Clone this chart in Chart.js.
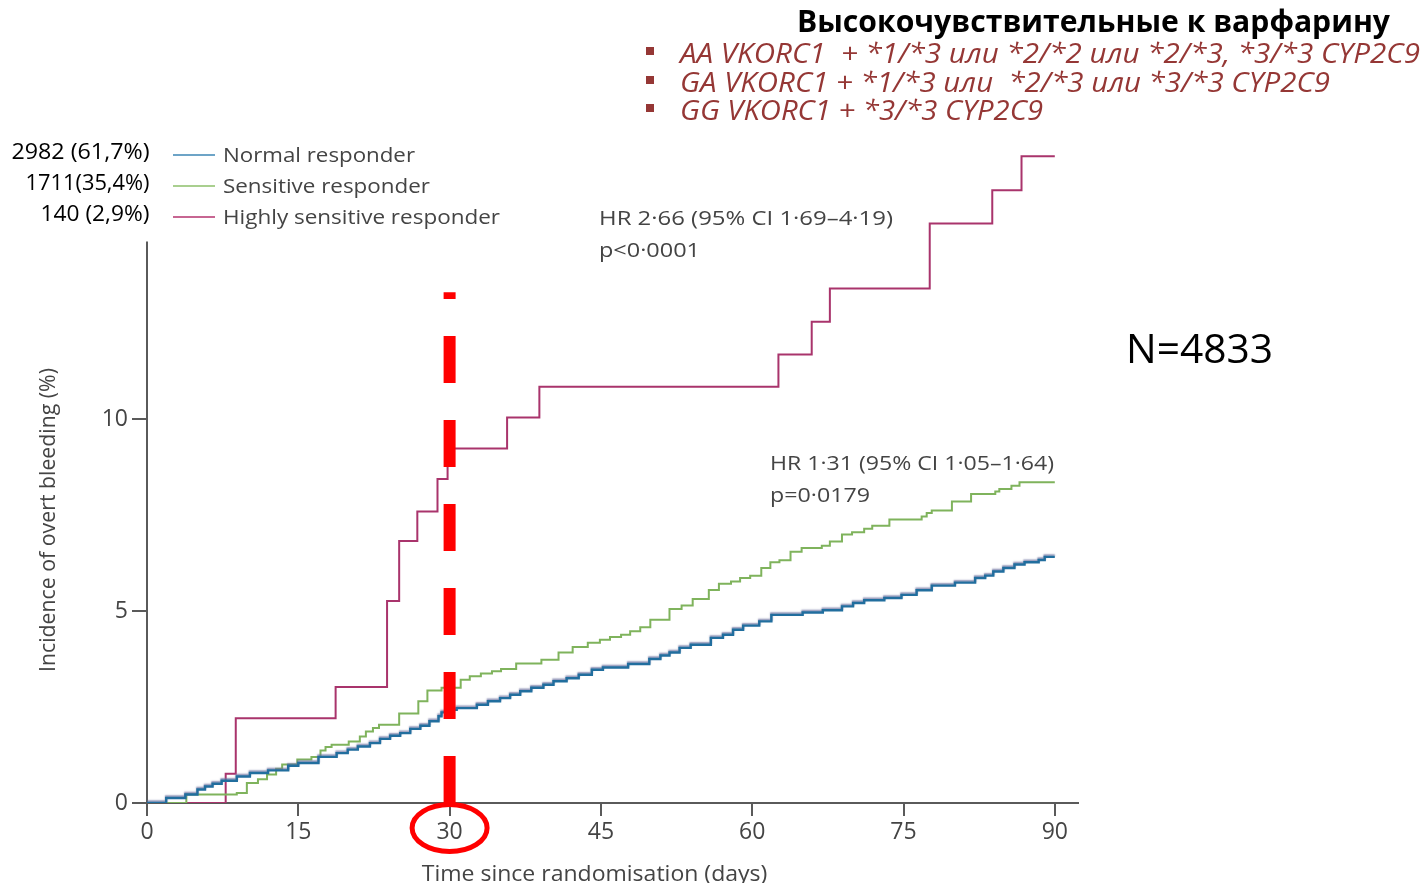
<!DOCTYPE html>
<html>
<head>
<meta charset="utf-8">
<script src="https://cdn.jsdelivr.net/npm/chart.js@4.4.1/dist/chart.umd.min.js"></script>
<style>
html,body{margin:0;padding:0;background:#fff;overflow:hidden}
#wrap{position:relative;width:1427px;height:883px}
</style>
</head>
<body>
<div id="wrap"><canvas id="c" width="1427" height="883"></canvas></div>
<script>
// ---------- data ----------
const xTickValues = [0, 15, 30, 45, 60, 75, 90];
const yTickValues = [0, 5, 10];

const seriesNames  = ['Normal responder', 'Sensitive responder', 'Highly sensitive responder'];
const seriesCounts = ['2982 (61,7%)', '1711(35,4%)', '140 (2,9%)'];

const normalDays = [0, 1.9, 3.8, 5.0, 5.75, 6.5, 7.4, 8.9, 10.2, 12.0, 14.0, 15.0, 17.0, 18.8, 19.9, 20.9, 22.1, 23.1, 24.1, 25.1, 26.1, 27.1, 28.0, 28.9, 29.2, 29.8, 30.7, 32.7, 33.8, 35.0, 36.0, 37.0, 38.1, 39.3, 40.3, 41.6, 42.8, 44.1, 45.2, 47.7, 49.8, 50.9, 51.8, 52.8, 53.9, 55.9, 57.1, 58.1, 59.1, 60.7, 61.9, 65.0, 67.0, 68.9, 70.0, 71.1, 73.1, 74.8, 76.3, 77.8, 80.1, 82.1, 83.1, 83.9, 84.9, 86.0, 87.0, 88.4, 89.0, 90.0];
const normalIncidence = [0, 0.13, 0.22, 0.35, 0.43, 0.50, 0.58, 0.69, 0.78, 0.85, 0.97, 1.04, 1.20, 1.30, 1.39, 1.47, 1.56, 1.67, 1.75, 1.82, 1.93, 2.01, 2.13, 2.26, 2.36, 2.43, 2.47, 2.56, 2.65, 2.73, 2.82, 2.91, 3.00, 3.08, 3.17, 3.25, 3.34, 3.47, 3.53, 3.62, 3.75, 3.84, 3.92, 4.04, 4.12, 4.30, 4.38, 4.51, 4.62, 4.73, 4.90, 4.96, 5.02, 5.12, 5.21, 5.28, 5.34, 5.42, 5.54, 5.66, 5.74, 5.86, 5.92, 6.03, 6.12, 6.21, 6.27, 6.33, 6.41, 6.41];

const sensitiveDays = [0, 3.9, 8.9, 9.9, 11.0, 11.9, 12.8, 13.4, 14.9, 16.3, 17.2, 17.7, 18.3, 20.0, 21.1, 21.7, 22.4, 23.0, 25.0, 26.9, 27.8, 29.2, 31.1, 32.0, 33.1, 34.2, 35.1, 36.6, 39.1, 40.8, 42.2, 43.7, 44.9, 45.9, 47.0, 47.9, 48.9, 49.9, 51.8, 53.0, 54.1, 55.7, 56.7, 57.9, 58.8, 59.8, 60.9, 61.8, 62.7, 63.8, 64.9, 66.9, 67.7, 68.9, 69.9, 71.1, 71.9, 73.6, 76.8, 77.3, 77.8, 79.8, 81.7, 84.1, 84.5, 85.7, 86.5, 90.0];
const sensitiveIncidence = [0, 0.22, 0.26, 0.52, 0.62, 0.74, 0.89, 1.00, 1.13, 1.20, 1.37, 1.46, 1.52, 1.60, 1.73, 1.86, 1.95, 2.04, 2.33, 2.65, 2.93, 3.00, 3.21, 3.30, 3.37, 3.43, 3.49, 3.63, 3.73, 3.92, 4.06, 4.17, 4.25, 4.32, 4.38, 4.47, 4.58, 4.77, 5.05, 5.14, 5.31, 5.55, 5.71, 5.77, 5.86, 5.92, 6.12, 6.27, 6.32, 6.54, 6.64, 6.70, 6.81, 6.99, 7.05, 7.14, 7.22, 7.38, 7.46, 7.55, 7.62, 7.85, 8.05, 8.11, 8.18, 8.26, 8.35, 8.35];

const highlyDays = [0, 7.8, 8.8, 18.7, 23.8, 25.0, 26.8, 28.8, 29.8, 35.7, 38.9, 62.6, 65.9, 67.7, 77.6, 83.8, 86.7, 90.0];
const highlyIncidence = [0, 0.76, 2.21, 3.02, 5.26, 6.82, 7.59, 8.44, 9.23, 10.04, 10.84, 11.68, 12.53, 13.40, 15.09, 15.96, 16.84, 16.84];

const hrHighly = ['HR 2·66 (95% CI 1·69–4·19)', 'p<0·0001'];
const hrSensitive = ['HR 1·31 (95% CI 1·05–1·64)', 'p=0·0179'];
const titleRu = 'Высокочувствительные к варфарину';
const genotypeLines = [
  'AA VKORC1  + *1/*3 или *2/*2 или *2/*3, *3/*3 CYP2C9',
  'GA VKORC1 + *1/*3 или  *2/*3 или *3/*3 CYP2C9',
  'GG VKORC1 + *3/*3 CYP2C9'
];
const sampleSize = 'N=4833';
const markerDay = 30;
const xAxisTitle = 'Time since randomisation (days)';
const yAxisTitle = 'Incidence of overt bleeding (%)';

// ---------- helpers ----------
const toPoints = (days, vals) => days.map((d, i) => ({ x: d, y: vals[i] }));
function fitText(ctx, text, x, y, width, align) {
  const w = ctx.measureText(text).width;
  const s = width / w;
  const x0 = align === 'left' ? x : (align === 'right' ? x - width : x - width / 2);
  ctx.save();
  ctx.translate(x0, y);
  ctx.scale(s, 1);
  ctx.textAlign = 'left';
  ctx.textBaseline = 'alphabetic';
  ctx.fillText(text, 0, 0);
  ctx.restore();
}

const TEXT_GRAY = '#444444';
const AXIS_GRAY = '#5a5a5a';
const CHART_FONT = '"Open Sans"';
const lineColors = ['#216e9e', '#7fb35c', '#a9346c'];
const legendColors = ['#3d86b5', '#8cbf6a', '#b5336e'];

const overlay = {
  id: 'overlay',
  beforeDatasetDraw(chart, args) {
    if (args.index === 0) {
      const c = chart.ctx;
      c.save();
      c.shadowColor = 'rgba(110,115,160,0.75)';
      c.shadowBlur = 1.5;
      c.shadowOffsetX = 0;
      c.shadowOffsetY = -1.5;
    }
  },
  afterDatasetDraw(chart, args) {
    if (args.index === 0) chart.ctx.restore();
  },
  beforeDatasetsDraw(chart) {
    const c = chart.ctx, xs = chart.scales.x, ys = chart.scales.y;
    c.save();
    c.strokeStyle = AXIS_GRAY;
    c.lineWidth = 2;
    c.beginPath();
    c.moveTo(xs.getPixelForValue(0), ys.getPixelForValue(0));
    c.lineTo(xs.getPixelForValue(0), ys.getPixelForValue(14.62));
    c.stroke();
    c.restore();
  },
  afterDraw(chart) {
    const c = chart.ctx, xs = chart.scales.x, ys = chart.scales.y;
    const mx = xs.getPixelForValue(markerDay);
    c.save();
    c.strokeStyle = '#ff0000';
    c.lineWidth = 12;
    c.lineCap = 'butt';
    c.setLineDash([47, 37]);
    c.beginPath();
    c.moveTo(mx, ys.getPixelForValue(0));
    c.lineTo(mx, ys.getPixelForValue(13.3));
    c.stroke();
    c.setLineDash([]);
    c.lineWidth = 5;
    c.beginPath();
    c.ellipse(mx, 828, 37.5, 23.5, 0, 0, Math.PI * 2);
    c.stroke();
    c.restore();

    // axis titles
    c.save();
    c.fillStyle = TEXT_GRAY;
    c.font = '500 22px ' + CHART_FONT;
    fitText(c, xAxisTitle, 421.7, 881, 345.6, 'left');
    c.translate(55, 520);
    c.rotate(-Math.PI / 2);
    c.font = '500 21px ' + CHART_FONT;
    fitText(c, yAxisTitle, 0, 0, 304, 'center');
    c.restore();

    // legend
    c.save();
    const legBase = [162, 193, 224];
    const legW = [192, 207, 277];
    const cntW = [138, 124, 109];
    for (let i = 0; i < 3; i++) {
      c.strokeStyle = legendColors[i];
      c.lineWidth = 1.6;
      c.beginPath();
      c.moveTo(173, legBase[i] - 7);
      c.lineTo(215, legBase[i] - 7);
      c.stroke();
      c.fillStyle = TEXT_GRAY;
      c.font = '500 20.5px ' + CHART_FONT;
      fitText(c, seriesNames[i], 223, legBase[i], legW[i], 'left');
      c.fillStyle = '#000';
      c.font = '21px "Open Sans"';
      fitText(c, seriesCounts[i], 149.5, legBase[i] - 3.5, cntW[i], 'right');
    }
    c.restore();

    // HR annotations
    c.save();
    c.fillStyle = TEXT_GRAY;
    c.font = '500 20.5px ' + CHART_FONT;
    fitText(c, hrHighly[0], 599, 224.5, 294, 'left');
    fitText(c, hrHighly[1], 599, 256.5, 101, 'left');
    fitText(c, hrSensitive[0], 770, 470, 284, 'left');
    fitText(c, hrSensitive[1], 770, 502, 100, 'left');
    c.restore();

    // N
    c.save();
    c.fillStyle = '#000';
    c.font = '41px "Open Sans"';
    fitText(c, sampleSize, 1126, 362.7, 147, 'left');
    c.restore();

    // Russian title and genotype bullets
    c.save();
    c.fillStyle = '#000';
    c.font = 'bold 29.5px "Open Sans"';
    fitText(c, titleRu, 1390, 32, 593, 'right');
    const gBase = [63, 92, 120];
    const gW = [740, 650, 363];
    c.fillStyle = '#953735';
    c.font = 'italic 26.5px "Open Sans"';
    for (let i = 0; i < 3; i++) {
      c.fillRect(646, gBase[i] - 16, 8, 8);
      fitText(c, genotypeLines[i], 680, gBase[i], gW[i], 'left');
    }
    c.restore();
  }
};

new Chart(document.getElementById('c').getContext('2d'), {
  type: 'line',
  data: {
    datasets: [
      { label: seriesNames[0], data: toPoints(normalDays, normalIncidence), borderColor: lineColors[0], borderWidth: 2.4, stepped: 'before', pointRadius: 0, fill: false },
      { label: seriesNames[1], data: toPoints(sensitiveDays, sensitiveIncidence), borderColor: lineColors[1], borderWidth: 2, stepped: 'before', pointRadius: 0, fill: false },
      { label: seriesNames[2], data: toPoints(highlyDays, highlyIncidence), borderColor: lineColors[2], borderWidth: 2, stepped: 'before', pointRadius: 0, fill: false }
    ]
  },
  options: {
    responsive: false,
    animation: false,
    devicePixelRatio: 1,
    layout: { padding: { left: 0, top: 131, right: 349, bottom: 0 } },
    plugins: { legend: { display: false }, tooltip: { enabled: false }, title: { display: false } },
    scales: {
      x: {
        type: 'linear', min: 0, max: 92.3,
        afterBuildTicks: s => { s.ticks = xTickValues.map(v => ({ value: v })); },
        afterFit: s => { s.height = 80; },
        grid: { drawOnChartArea: false, drawTicks: true, tickLength: 13, color: AXIS_GRAY, lineWidth: 2 },
        border: { display: true, color: AXIS_GRAY, width: 2 },
        ticks: { font: { family: 'Open Sans', size: 23, weight: '500' }, color: TEXT_GRAY, padding: 3, maxRotation: 0, autoSkip: false }
      },
      y: {
        type: 'linear', min: 0, max: 17.5,
        afterBuildTicks: s => { s.ticks = yTickValues.map(v => ({ value: v })); },
        afterFit: s => { s.width = 147; },
        grid: { drawOnChartArea: false, drawTicks: true, tickLength: 15, color: AXIS_GRAY, lineWidth: 2 },
        border: { display: false },
        ticks: { font: { family: 'Open Sans', size: 23, weight: '500' }, color: TEXT_GRAY, padding: 4, autoSkip: false }
      }
    }
  },
  plugins: [overlay]
});
</script>
</body>
</html>
